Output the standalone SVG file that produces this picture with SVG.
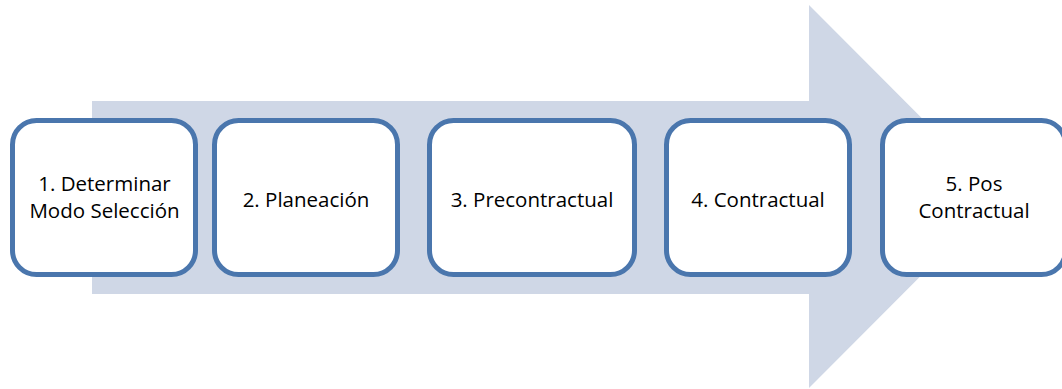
<svg xmlns="http://www.w3.org/2000/svg" width="1062" height="389" viewBox="0 0 1062 389">
  <style>
    .step rect { fill: #ffffff; stroke: #4a76ad; stroke-width: 5; }
    .step text { font-family: "Open Sans", "Liberation Sans", sans-serif; font-size: 20.5px; fill: #000000; text-anchor: middle; }
  </style>
  <rect width="1062" height="389" fill="#ffffff"/>
  <!-- broad process arrow behind the steps -->
  <g id="connectors">
    <polygon points="92,101 809,101 809,5 1000,196.5 809,388 809,294 92,294" fill="#cfd7e6"/>
  </g>
  <g id="step1" class="step">
    <rect x="12.5" y="120.5" width="183" height="154" rx="24"/>
    <text x="104.5" y="191">1. Determinar</text>
    <text x="104.5" y="218">Modo Selección</text>
  </g>
  <g id="step2" class="step">
    <rect x="214.5" y="120.5" width="183" height="154" rx="24"/>
    <text x="306" y="206.5">2. Planeación</text>
  </g>
  <g id="step3" class="step">
    <rect x="429.5" y="120.5" width="205" height="154" rx="24"/>
    <text x="532" y="206.5">3. Precontractual</text>
  </g>
  <g id="step4" class="step">
    <rect x="666.5" y="120.5" width="183" height="154" rx="24"/>
    <text x="758" y="206.5">4. Contractual</text>
  </g>
  <g id="step5" class="step">
    <rect x="882.5" y="120.5" width="183" height="154" rx="24"/>
    <text x="974" y="191">5. Pos</text>
    <text x="974" y="218">Contractual</text>
  </g>
</svg>
